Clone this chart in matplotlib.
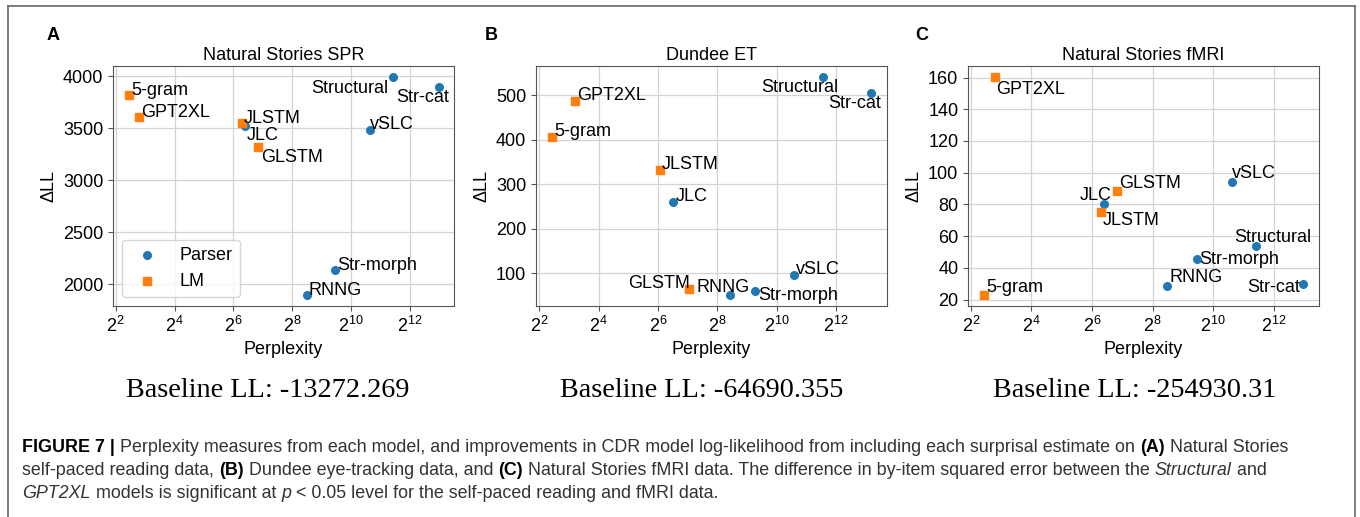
# Figure 7: perplexity vs. delta log-likelihood, three datasets

import matplotlib
matplotlib.use('Agg')
from matplotlib import pyplot as plt
from matplotlib.lines import Line2D
from matplotlib.ticker import MultipleLocator

plt.rcParams['font.family'] = ['Liberation Sans', 'DejaVu Sans']
plt.rcParams['font.size'] = 13

# ---- data ---------------------------------------------------------------
models = ['5-gram', 'GPT2XL', 'JLSTM', 'GLSTM', 'JLC',
          'RNNG', 'Str-morph', 'vSLC', 'Structural', 'Str-cat']
kinds = ['LM', 'LM', 'LM', 'LM', 'Parser',
         'Parser', 'Parser', 'Parser', 'Parser', 'Parser']

ppl_ns = [5.4, 6.9, 78.8, 114.5, 84.4, 359.5, 704, 1595, 2740, 8020]
ppl_dundee = [5.4, 9.2, 66.7, 133.4, 91.1, 345, 622, 1531, 2978, 9214]

dll_spr = [3820, 3609, 3551, 3320, 3526, 1894, 2138, 3484, 3994, 3900]
dll_dundee = [406.5, 487, 332.5, 65.5, 260, 51, 59.5, 96, 541, 504]
dll_fmri = [22.8, 160.4, 75.3, 88.2, 80.4, 28.6, 45.8, 94, 54, 30.1]

titles = ['Natural Stories SPR', 'Dundee ET', 'Natural Stories fMRI']
letters = ['A', 'B', 'C']
baselines = ['Baseline LL: -13272.269', 'Baseline LL: -64690.355',
             'Baseline LL: -254930.31']
ystep = [500, 100, 20]

# ---- label placement (pixel offsets from point, ha) -----------------------
offs_a = {'5-gram': (2.7, 0, 'left'), 'GPT2XL': (2.7, 0, 'left'),
          'JLSTM': (1.3, 0, 'left'), 'JLC': (2, -14.3, 'left'),
          'GLSTM': (2.7, -14.7, 'left'), 'Structural': (-4.3, -15.7, 'right'),
          'Str-cat': (-42.7, -15, 'left'), 'vSLC': (0, 0.7, 'left'),
          'Str-morph': (2, -0.7, 'left'), 'RNNG': (2, 0, 'left')}
offs_b = {'GPT2XL': (2, 1, 'left'), '5-gram': (2, 1, 'left'),
          'JLSTM': (2, 1, 'left'), 'JLC': (2.3, 1, 'left'),
          'GLSTM': (0.3, 0.7, 'right'), 'RNNG': (-33.7, 3.3, 'left'),
          'Str-morph': (2.7, -8.3, 'left'), 'vSLC': (2.3, 1.3, 'left'),
          'Structural': (-61, -14.7, 'left'), 'Str-cat': (-43, -14.7, 'left')}
offs_c = {'GPT2XL': (1.7, -16.7, 'left'), '5-gram': (2, 3.3, 'left'),
          'JLC': (7.7, 4, 'right'), 'GLSTM': (2, 3.3, 'left'),
          'JLSTM': (2, -13, 'left'), 'vSLC': (-1, 4.3, 'left'),
          'Structural': (-22.3, 3.7, 'left'), 'Str-morph': (2.3, -5, 'left'),
          'RNNG': (2.3, 3.7, 'left'), 'Str-cat': (-3.3, -8.7, 'right')}

panels = [(ppl_ns, dll_spr, offs_a), (ppl_dundee, dll_dundee, offs_b),
          (ppl_ns, dll_fmri, offs_c)]

W, H = 1360, 517
fig = plt.figure(figsize=(W / 100, H / 100), dpi=100)

ax_left = [113, 536, 968]
ax_width = [341, 351, 351]
letter_x = [47, 485, 915]
base_x = [268, 702, 1135]

blue = '#1f77b4'
orange = '#ff7f0e'

for i, (ppl, dll, offs) in enumerate(panels):
    ax = fig.add_axes([ax_left[i] / W, 1 - 306 / H, ax_width[i] / W, 240 / H])
    px = [p for p, k in zip(ppl, kinds) if k == 'Parser']
    py = [d for d, k in zip(dll, kinds) if k == 'Parser']
    lx = [p for p, k in zip(ppl, kinds) if k == 'LM']
    ly = [d for d, k in zip(dll, kinds) if k == 'LM']
    ax.scatter(px, py, s=30, marker='o', color=blue, label='Parser', zorder=3)
    ax.scatter(lx, ly, s=30, marker='s', color=orange, label='LM', zorder=3)
    for name, x, y in zip(models, ppl, dll):
        dx, dy, ha = offs[name]
        ax.annotate(name, (x, y), xytext=(dx, dy), textcoords='offset pixels',
                    ha=ha, va='baseline', fontsize=13, zorder=4)
    ax.set_xscale('log', base=2)
    ax.set_xticks([2 ** k for k in range(2, 13, 2)])
    ax.minorticks_off()
    ax.yaxis.set_major_locator(MultipleLocator(ystep[i]))
    ax.grid(True, color='#d3d3d3', linewidth=0.9)
    ax.set_axisbelow(True)
    for sp in ax.spines.values():
        sp.set_color('#555555')
    ax.tick_params(colors='#555555', labelcolor='black', labelsize=13)
    ax.set_xlabel('Perplexity', fontsize=13)
    ax.set_ylabel('ΔLL', fontsize=13)
    ax.set_title(titles[i], fontsize=13, pad=4)
    if i == 0:
        ax.legend(loc='lower left', fontsize=13)

    fig.text(letter_x[i] / W, 1 - 40 / H, letters[i], fontsize=13,
             fontweight='bold', ha='left', va='baseline')
    fig.text(base_x[i] / W, 1 - 397 / H, baselines[i], fontsize=20.3,
             family='Liberation Serif', ha='center', va='baseline')

# frame around the whole figure (open at the bottom)
frame = dict(color='#666666', linewidth=1.2, transform=fig.transFigure)
fig.add_artist(Line2D([8 / W, 8 / W], [0, 1 - 6 / H], **frame))
fig.add_artist(Line2D([8 / W, 1355 / W], [1 - 6 / H, 1 - 6 / H], **frame))
fig.add_artist(Line2D([1355 / W, 1355 / W], [0, 1 - 6 / H], **frame))

# ---- caption, written run by run ----------------------------------------
cap_lines = [
    [('FIGURE 7 | ', 'bold', 'normal'),
     ('Perplexity measures from each model, and improvements in CDR model '
      'log-likelihood from including each surprisal estimate on ', 'normal', 'normal'),
     ('(A)', 'bold', 'normal'), (' Natural Stories', 'normal', 'normal')],
    [('self-paced reading data, ', 'normal', 'normal'), ('(B)', 'bold', 'normal'),
     (' Dundee eye-tracking data, and ', 'normal', 'normal'), ('(C)', 'bold', 'normal'),
     (' Natural Stories fMRI data. The difference in by-item squared error '
      'between the ', 'normal', 'normal'),
     ('Structural', 'normal', 'italic'), (' and', 'normal', 'normal')],
    [('GPT2XL', 'normal', 'italic'), (' models is significant at ', 'normal', 'normal'),
     ('p', 'normal', 'italic'),
     (' < 0.05 level for the self-paced reading and fMRI data.', 'normal', 'normal')],
]
cap_y = [452, 475, 498]
cap_size = 12.85

renderer = fig.canvas.get_renderer()


def run_width(s, weight, style):
    # pad with 'x' so leading / trailing spaces are measured too
    t = fig.text(0, 0, 'x' + s + 'x', fontsize=cap_size, fontweight=weight,
                 fontstyle=style)
    t2 = fig.text(0, 0, 'xx', fontsize=cap_size, fontweight=weight,
                  fontstyle=style)
    w = t.get_window_extent(renderer).width - t2.get_window_extent(renderer).width
    t.remove()
    t2.remove()
    return w


for runs, y in zip(cap_lines, cap_y):
    x = 22.5
    for s, weight, style in runs:
        color = 'black' if weight == 'bold' else '#333333'
        fig.text(x / W, 1 - y / H, s, fontsize=cap_size, fontweight=weight,
                 fontstyle=style, color=color, ha='left', va='baseline')
        x += run_width(s, weight, style)

plt.savefig('out.png', dpi=100)
plt.close()
